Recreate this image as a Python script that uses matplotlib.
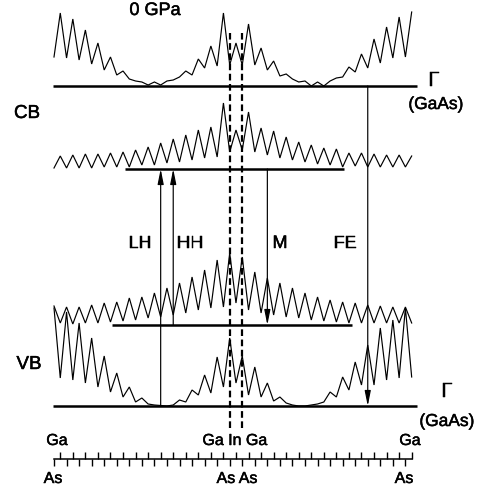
import matplotlib
matplotlib.use("Agg")
import matplotlib.pyplot as plt
import matplotlib.patheffects as pe
import numpy as np

plt.rcParams['font.family'] = ['Liberation Sans', 'DejaVu Sans']

# ---------------- data ----------------
# atomic planes along the growth axis: As on even index, Ga on odd index, In at plane 29
planes = np.arange(58)
in_plane = 29

# energy levels (arbitrary units)
E_cb_gamma = 402   # Gamma (GaAs) conduction band
E_cb_conf = 319    # In-bound conduction state
E_vb_conf = 163    # In-bound valence state
E_vb_gamma = 82    # Gamma (GaAs) valence band

# plane-resolved charge densities (arbitrary units) above each level
rho_cb_gamma = [29, 73, 28, 67, 26, 56, 22, 43, 16, 29,
                11, 15, 7, 5, 4, 1, 4, 1, 5, 6,
                9, 15, 11, 27, 18, 40, 20, 73, 21, 43,
                21, 62, 21, 38, 16, 25, 10, 12, 7, 4,
                5, 0, 4, 0, 5, 8, 9, 19, 14, 32,
                18, 47, 23, 59, 28, 69, 29, 74]
rho_cb_conf = [1, 13, 1, 14, 1, 15, 1, 15, 2, 16,
               2, 17, 2, 19, 4, 22, 4, 26, 6, 30,
               7, 34, 9, 39, 11, 42, 12, 66, 17, 39,
               19, 57, 17, 41, 14, 38, 11, 32, 9, 27,
               7, 24, 5, 21, 4, 20, 2, 16, 3, 16,
               2, 15, 2, 14, 2, 14, 2, 13]
rho_vb_conf = [19, 2, 18, 1, 18, 2, 20, 2, 22, 3,
               23, 4, 27, 5, 28, 7, 32, 8, 37, 10,
               42, 12, 48, 15, 55, 17, 65, 18, 72, 22,
               68, 15, 53, 12, 47, 10, 42, 8, 37, 7,
               32, 5, 28, 4, 25, 3, 23, 2, 22, 2,
               20, 2, 19, 2, 18, 2, 18, 2]
rho_vb_gamma = [98, 28, 94, 26, 83, 23, 68, 19, 50, 14,
                33, 9, 19, 4, 8, 2, 1, 0.5, 0, 1,
                6, 4, 16, 11, 31, 13, 49, 19, 68, 23,
                50, 11, 39, 9, 23, 5, 9, 3, 1, 0,
                0, 1, 2, 4, 14, 9, 29, 16, 44, 21,
                61, 21, 78, 26, 86, 28, 98, 29]

# level line extents (plane index)
gamma_span = (-0.15, 57.8)
cb_conf_span = (11.3, 46.2)
vb_conf_span = (9.2, 47.5)

# transitions: (name, plane, from level, to level)
transitions = [("LH", 17, E_vb_gamma, E_cb_conf),
               ("HH", 19, E_vb_conf, E_cb_conf),
               ("M", 34, E_cb_conf, E_vb_conf),
               ("FE", 50, E_cb_gamma, E_vb_gamma)]

# ---------------- layout helpers ----------------
W, H = 484, 488
X0, DX = 54.0, 6.275


def P(px, py):
    """pixel position -> data coordinates (for annotations only)"""
    return (px - X0) / DX, H - py


fig = plt.figure(figsize=(W / 100, H / 100), dpi=100)
ax = fig.add_axes([0, 0, 1, 1])
ax.set_xlim(P(0, 0)[0], P(W, 0)[0])
ax.set_ylim(0, H)
ax.set_axis_off()

heavy = [pe.withStroke(linewidth=0.35, foreground='k')]

# density curves
for level, rho in [(E_cb_gamma, rho_cb_gamma), (E_cb_conf, rho_cb_conf),
                   (E_vb_conf, rho_vb_conf), (E_vb_gamma, rho_vb_gamma)]:
    ax.plot(planes, level + np.asarray(rho, float), color='k', lw=0.85,
            solid_joinstyle='miter')

# level lines
ax.hlines(E_cb_gamma, *gamma_span, color='k', lw=1.8)
ax.hlines(E_vb_gamma, *gamma_span, color='k', lw=1.8)
ax.hlines(E_cb_conf, *cb_conf_span, color='k', lw=1.8)
ax.hlines(E_vb_conf, *vb_conf_span, color='k', lw=1.8)

# dashed lines around the In plane (neighbouring As planes)
for p in (in_plane - 1, in_plane + 1):
    ax.plot([p, p], [P(0, 428)[1], P(0, 33)[1]], color='k', lw=1.6,
            linestyle=(0, (3, 1.6)))

# transitions
for name, p, e0, e1 in transitions:
    ax.annotate('', xy=(p, e1), xytext=(p, e0),
                arrowprops=dict(arrowstyle='-|>,head_length=0.9,head_width=0.18',
                                lw=0.85, color='k', shrinkA=0, shrinkB=0,
                                mutation_scale=10))
label_px = {"LH": 140, "HH": 190, "M": 280, "FE": 345}
for name, p, e0, e1 in transitions:
    ax.text(P(label_px[name], 0)[0], P(0, 248)[1], name, fontsize=13,
            ha='center', va='baseline', path_effects=heavy)

# texts
ax.text(*P(155, 15), "0 GPa", fontsize=13, ha='center', va='baseline', path_effects=heavy)
ax.text(*P(27, 118), "CB", fontsize=13.5, ha='center', va='baseline', path_effects=heavy)
ax.text(*P(29, 369), "VB", fontsize=13.5, ha='center', va='baseline', path_effects=heavy)
ax.text(*P(434, 86), "\u0393", fontsize=15, ha='center', va='baseline', path_effects=heavy)
ax.text(*P(436, 109), "(GaAs)", fontsize=12.5, ha='center', va='baseline', path_effects=heavy)
ax.text(*P(447, 397), "\u0393", fontsize=15, ha='center', va='baseline', path_effects=heavy)
ax.text(*P(447, 426), "(GaAs)", fontsize=12.5, ha='center', va='baseline', path_effects=heavy)

# bottom plane axis
y_ax = P(0, 459)[1]
ax.plot([planes[0], planes[-1]], [y_ax, y_ax], color='k', lw=1.1)
ga = planes[planes % 2 == 1]
As = planes[planes % 2 == 0]
ax.vlines(ga, y_ax, y_ax + 7.5, color='k', lw=1.0)
ax.vlines(As, y_ax - 6.5, y_ax, color='k', lw=1.0)

ax.text(*P(57, 445), "Ga", fontsize=11.5, ha='center', va='baseline', path_effects=heavy)
ax.text(*P(235, 445), "Ga In Ga", fontsize=11.5, ha='center', va='baseline', path_effects=heavy)
ax.text(*P(410, 445), "Ga", fontsize=11.5, ha='center', va='baseline', path_effects=heavy)
ax.text(*P(53, 483), "As", fontsize=11.5, ha='center', va='baseline', path_effects=heavy)
ax.text(*P(237, 483), "As As", fontsize=11.5, ha='center', va='baseline', path_effects=heavy)
ax.text(*P(404, 483), "As", fontsize=11.5, ha='center', va='baseline', path_effects=heavy)

fig.savefig("out.png", dpi=100)
